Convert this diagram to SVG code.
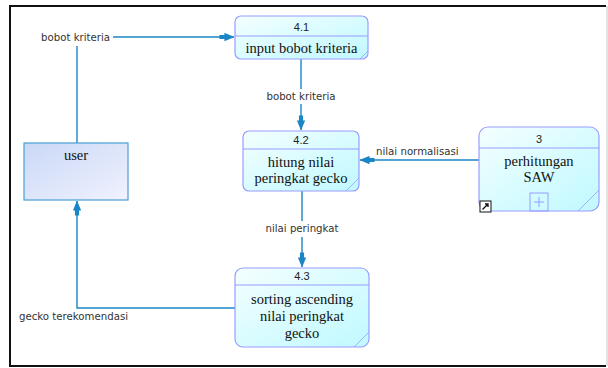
<svg xmlns="http://www.w3.org/2000/svg" width="608" height="368" viewBox="0 0 608 368">
  <defs>
    <linearGradient id="procFill" x1="0" y1="0" x2="1" y2="1">
      <stop offset="0" stop-color="#f4ffff"/>
      <stop offset="1" stop-color="#bff9ff"/>
    </linearGradient>
    <linearGradient id="extFill" x1="0" y1="0" x2="1" y2="1">
      <stop offset="0" stop-color="#cad8f6"/>
      <stop offset="1" stop-color="#f0f2fe"/>
    </linearGradient>
    <marker id="arrow" markerUnits="userSpaceOnUse" markerWidth="15" markerHeight="9" refX="17.5" refY="5" viewBox="0 0 18 10" orient="auto">
      <path d="M0,2.5 L6,2.5 L6,0 L18,5 L6,10 L6,7.5 L0,7.5 Z" fill="#1a86c6"/>
    </marker>
    <style>
      .frame { fill: none; stroke: #111; stroke-width: 2; }
      .proc { fill: url(#procFill); stroke: #9a9cff; stroke-width: 1.2; }
      .divider { stroke: #9a9cff; stroke-width: 1.2; }
      .fold { stroke: #9a9cff; stroke-width: 0.8; fill: none; }
      .ext { fill: url(#extFill); stroke: #4aa0d8; stroke-width: 1.2; }
      .flow { fill: none; stroke: #1a86c6; stroke-width: 1.4; }
      .num { font-family: "Liberation Sans", Arial, sans-serif; font-size: 11px; fill: #222; text-anchor: middle; }
      .title { font-family: "Liberation Serif", "Times New Roman", serif; font-size: 14.5px; fill: #111; text-anchor: middle; }
      .lbl { font-family: "DejaVu Sans", "Liberation Sans", sans-serif; font-size: 10.2px; fill: #333; }
    </style>
  </defs>

  <rect width="608" height="368" fill="#ffffff"/>
  <!-- outer frame -->
  <line x1="10" y1="6" x2="606" y2="6" class="frame"/>
  <line x1="10" y1="5" x2="10" y2="367" class="frame"/>
  <line x1="10" y1="366" x2="606" y2="366" class="frame"/>
  <line x1="607" y1="6" x2="607" y2="366" stroke="#d8d8d8" stroke-width="1.5"/>

  <!-- data flows -->
  <g id="connectors">
    <path class="flow" d="M77,143 L77,46"/>
    <path class="flow" d="M113,37 L234,37" marker-end="url(#arrow)"/>
    <path class="flow" d="M301,59 L301,89"/>
    <path class="flow" d="M301,104 L301,130" marker-end="url(#arrow)"/>
    <path class="flow" d="M479,160 L360,160" marker-end="url(#arrow)"/>
    <path class="flow" d="M302,191 L302,221"/>
    <path class="flow" d="M302,237 L302,267" marker-end="url(#arrow)"/>
    <path class="flow" d="M235,308 L77,308 L77,201" marker-end="url(#arrow)"/>
    <text class="lbl" x="41" y="41">bobot kriteria</text>
    <text class="lbl" x="301" y="100" text-anchor="middle">bobot kriteria</text>
    <text class="lbl" x="376" y="155">nilai normalisasi</text>
    <text class="lbl" x="302" y="232" text-anchor="middle">nilai peringkat</text>
    <text class="lbl" x="19" y="320">gecko terekomendasi</text>
  </g>

  <!-- external entity -->
  <g id="user">
    <rect class="ext" x="24" y="143" width="104" height="57"/>
    <text class="title" x="76" y="160">user</text>
  </g>

  <!-- process 4.1 -->
  <g id="p4_1">
    <rect class="proc" x="235" y="16" width="133" height="43" rx="6"/>
    <line class="divider" x1="235" y1="36" x2="368" y2="36"/>
    <path class="fold" d="M360,59 L368,51"/>
    <text class="num" x="301.5" y="31">4.1</text>
    <text class="title" x="301.5" y="53">input bobot kriteria</text>
  </g>

  <!-- process 4.2 -->
  <g id="p4_2">
    <rect class="proc" x="243" y="131" width="116" height="60" rx="6"/>
    <line class="divider" x1="243" y1="149" x2="359" y2="149"/>
    <path class="fold" d="M346,191 L359,178"/>
    <text class="num" x="301" y="144">4.2</text>
    <text class="title" x="301" y="167">hitung nilai</text>
    <text class="title" x="301" y="183">peringkat gecko</text>
  </g>

  <!-- process 3 (decomposed) -->
  <g id="p3">
    <rect class="proc" x="479" y="127" width="120" height="84" rx="9"/>
    <line class="divider" x1="479" y1="148" x2="599" y2="148"/>
    <path class="fold" d="M578,211 L599,190"/>
    <text class="num" x="539" y="143">3</text>
    <text class="title" x="539" y="166">perhitungan</text>
    <text class="title" x="539" y="182">SAW</text>
    <rect x="530" y="193" width="18" height="18" fill="none" stroke="#9a9cff" stroke-width="1"/>
    <path d="M539,197 L539,207 M534,202 L544,202" stroke="#9a9cff" stroke-width="1"/>
    <rect x="480" y="201" width="11" height="11" fill="#ffffff" stroke="#111" stroke-width="1"/>
    <path d="M482.5,209.5 L488,204 M485,204 L488,204 L488,207" stroke="#111" stroke-width="1.4" fill="none"/>
  </g>

  <!-- process 4.3 -->
  <g id="p4_3">
    <rect class="proc" x="235" y="268" width="134" height="79" rx="8"/>
    <line class="divider" x1="235" y1="285" x2="369" y2="285"/>
    <path class="fold" d="M354,347 L369,332"/>
    <text class="num" x="302" y="280">4.3</text>
    <text class="title" x="302" y="304">sorting ascending</text>
    <text class="title" x="302" y="321">nilai peringkat</text>
    <text class="title" x="302" y="338">gecko</text>
  </g>
</svg>
